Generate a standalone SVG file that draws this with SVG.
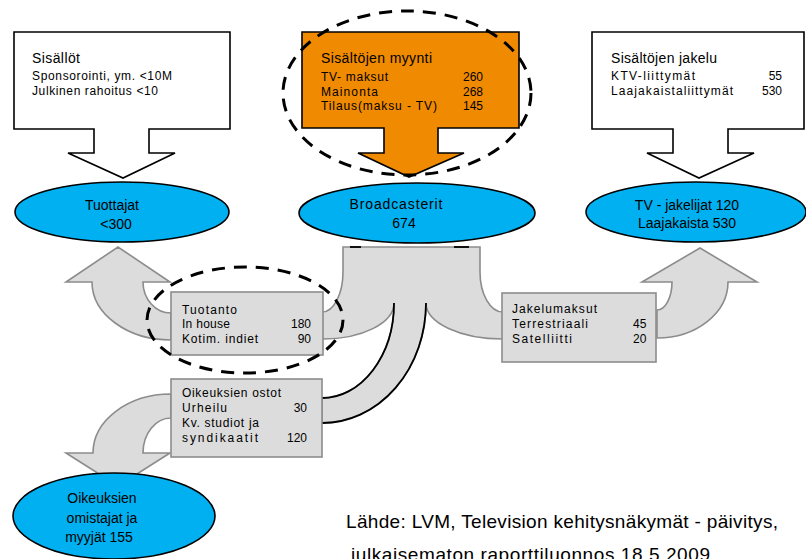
<svg xmlns="http://www.w3.org/2000/svg" width="806" height="559" viewBox="0 0 806 559">
<style>
text{font-family:"Liberation Sans",Arial,sans-serif;fill:#000}
.t14{font-size:14px}
.t12{font-size:12px}
.c{text-anchor:middle}
.e{text-anchor:end}
.call{fill:#fff;stroke:#000;stroke-width:1.6}
.orange{fill:#F08A00;stroke:#000;stroke-width:1.6}
.ell{fill:#00B0F0;stroke:#000;stroke-width:1.6}
.gray{fill:#DCDCDC;stroke:#8C8C8C;stroke-width:1.6}
.dash{fill:none;stroke:#000;stroke-width:3;stroke-dasharray:13 9}
.blk{fill:none;stroke:#000;stroke-width:1.8}
</style>
<rect width="806" height="559" fill="#fff"/>

<g id="connectors">
  <path class="gray" d="M171,340 A79,58 0 0 1 92,282 L66,282 L118,247 L170,282 L143,282 A28,31 0 0 0 171,313 Z"/>
  <path class="gray" d="M657,338 A71,56 0 0 0 728,282 L757,282 L700,248 L642,282 L672,282 A15,28 0 0 1 657,310 Z"/>
  <path class="gray" d="M171,394 A78,59 0 0 0 93,453 L66,453 L118,486 L170,453 L143,453 A28,35 0 0 1 171,418 Z"/>
  <path class="gray" d="M343,247 L480,247 L480,272 A23,40 0 0 0 503,312 L503,339 A77,36 0 0 1 426,303 A104,120 0 0 1 322,423 L322,398 A72,95 0 0 0 394,303 A71,36 0 0 1 322,339 L322,312 A21,40 0 0 0 343,272 Z"/>
  <path class="blk" d="M426,303 A104,120 0 0 1 322,423"/>
  <path class="blk" d="M394,303 A72,95 0 0 1 322,398"/>
  <line class="blk" x1="350" y1="247" x2="361" y2="247"/>
  <line class="blk" x1="454" y1="247" x2="469" y2="247"/>
</g>

<g id="sisallot">
  <path class="call" d="M14,32 H230 V129 H149 V153 H175 L123,178 L68,153 H94 V129 H14 Z"/>
  <text class="t14" x="32" y="63" textLength="48" lengthAdjust="spacing">Sisällöt</text>
  <text class="t12" x="32" y="80" textLength="140" lengthAdjust="spacing">Sponsorointi, ym. &lt;10M</text>
  <text class="t12" x="32" y="95" textLength="126" lengthAdjust="spacing">Julkinen rahoitus &lt;10</text>
</g>

<g id="myynti">
  <path class="orange" d="M302,32 H519 V128 H438 V153 H464 L409,177 L358,153 H384 V128 H302 Z"/>
  <text class="t14" x="321" y="63" textLength="111" lengthAdjust="spacing">Sisältöjen myynti</text>
  <text class="t12" x="321" y="81" textLength="67" lengthAdjust="spacing">TV- maksut</text>
  <text class="t12" x="321" y="96" textLength="57" lengthAdjust="spacing">Mainonta</text>
  <text class="t12" x="321" y="110" textLength="116" lengthAdjust="spacing">Tilaus(maksu  - TV)</text>
  <text class="t12 e" x="483" y="81">260</text>
  <text class="t12 e" x="483" y="96">268</text>
  <text class="t12 e" x="483" y="110">145</text>
</g>

<g id="jakelu">
  <path class="call" d="M592,32 H804 V129 H728 V153 H754 L699,178 L647,153 H673 V129 H592 Z"/>
  <text class="t14" x="611" y="63" textLength="106" lengthAdjust="spacing">Sisältöjen jakelu</text>
  <text class="t12" x="611" y="80" textLength="84" lengthAdjust="spacing">KTV-liittymät</text>
  <text class="t12" x="611" y="95" textLength="122" lengthAdjust="spacing">Laajakaistaliittymät</text>
  <text class="t12 e" x="782" y="80">55</text>
  <text class="t12 e" x="782" y="95">530</text>
</g>

<g id="dashed-myynti">
  <ellipse class="dash" cx="407" cy="93" rx="124" ry="82"/>
</g>

<g id="tuottajat">
  <ellipse class="ell" cx="122" cy="212" rx="107" ry="30"/>
  <text class="t14 c" x="112" y="210">Tuottajat</text>
  <text class="t14 c" x="116" y="229">&lt;300</text>
</g>

<g id="broadcasterit">
  <ellipse class="ell" cx="417" cy="213" rx="118" ry="30"/>
  <text class="t14 c" x="396" y="209" textLength="93" lengthAdjust="spacing">Broadcasterit</text>
  <text class="t14 c" x="404" y="228">674</text>
</g>

<g id="tv-jakelijat">
  <ellipse class="ell" cx="696" cy="212" rx="110" ry="30"/>
  <text class="t14 c" x="687" y="210">TV - jakelijat 120</text>
  <text class="t14 c" x="687" y="228">Laajakaista 530</text>
</g>

<g id="tuotanto">
  <rect class="gray" x="171" y="292" width="152" height="63"/>
  <text class="t12" x="182" y="314" textLength="55" lengthAdjust="spacing">Tuotanto</text>
  <text class="t12" x="182" y="328" textLength="48" lengthAdjust="spacing">In house</text>
  <text class="t12" x="182" y="343" textLength="76" lengthAdjust="spacing">Kotim. indiet</text>
  <text class="t12 e" x="311" y="328">180</text>
  <text class="t12 e" x="311" y="343">90</text>
</g>

<g id="dashed-tuotanto">
  <ellipse class="dash" cx="245" cy="320" rx="98" ry="53"/>
</g>

<g id="jakelumaksut">
  <rect class="gray" x="502" y="293" width="154" height="69"/>
  <text class="t12" x="512" y="313" textLength="85" lengthAdjust="spacing">Jakelumaksut</text>
  <text class="t12" x="512" y="328" textLength="76" lengthAdjust="spacing">Terrestriaali</text>
  <text class="t12" x="512" y="343" textLength="60" lengthAdjust="spacing">Satelliitti</text>
  <text class="t12" x="633" y="328">45</text>
  <text class="t12" x="633" y="343">20</text>
</g>

<g id="oikeuksien-ostot">
  <rect class="gray" x="171" y="379" width="151" height="78"/>
  <text class="t12" x="182" y="397" textLength="99" lengthAdjust="spacing">Oikeuksien ostot</text>
  <text class="t12" x="182" y="412" textLength="45" lengthAdjust="spacing">Urheilu</text>
  <text class="t12" x="182" y="427" textLength="77" lengthAdjust="spacing">Kv. studiot ja</text>
  <text class="t12" x="182" y="442" textLength="76" lengthAdjust="spacing">syndikaatit</text>
  <text class="t12 e" x="307" y="412">30</text>
  <text class="t12 e" x="307" y="442">120</text>
</g>

<g id="oikeuksien-omistajat">
  <ellipse class="ell" cx="114" cy="516" rx="101" ry="43"/>
  <text class="t14 c" x="102" y="503">Oikeuksien</text>
  <text class="t14 c" x="102" y="523">omistajat ja</text>
  <text class="t14 c" x="99" y="542">myyjät 155</text>
</g>

<g id="source">
  <text x="346" y="528" font-size="19" textLength="432" lengthAdjust="spacing">Lähde: LVM, Television kehitysnäkymät - päivitys,</text>
  <text x="351" y="561" font-size="19" textLength="359" lengthAdjust="spacing">julkaisematon raporttiluonnos 18.5.2009</text>
</g>
</svg>
